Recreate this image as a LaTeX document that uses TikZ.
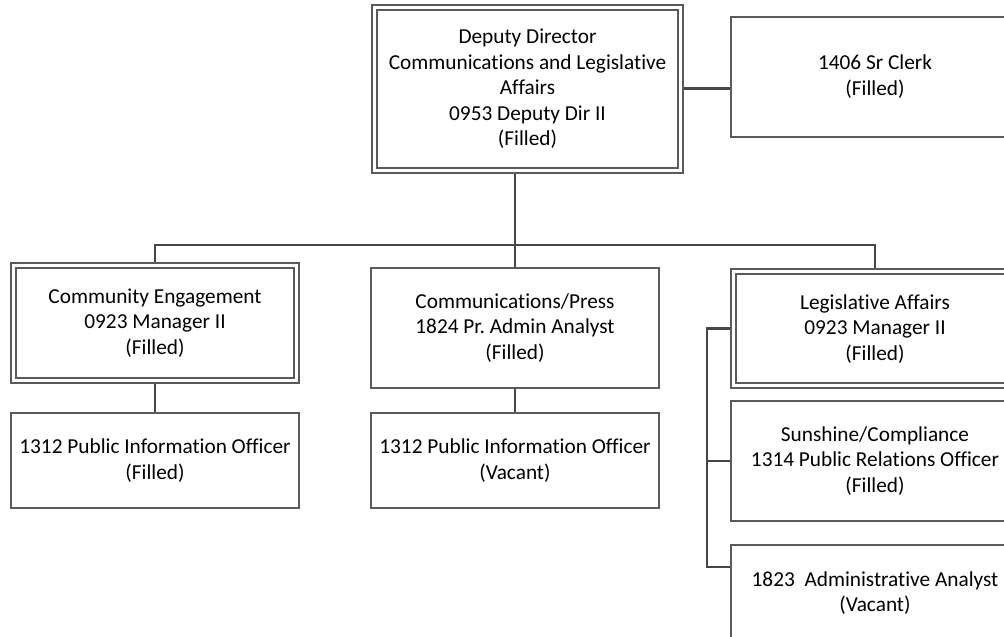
\documentclass[tikz,border=0pt]{standalone}
\usepackage{fontspec}
\setmainfont{Carlito}[Ligatures=CommonOff]
\usetikzlibrary{backgrounds}
\definecolor{boxline}{RGB}{90,90,90}
\definecolor{connline}{RGB}{70,70,70}
\frenchspacing
\tikzset{
  unit/.style={draw=boxline, line width=2pt, fill=white, rectangle, inner sep=0pt,
    align=center, font=\fontsize{21.3}{25.5}\selectfont},
  dbl/.style={unit, line width=1.9pt, double=white, double distance=3.1pt},
  conn/.style={draw=connline, line width=2.9pt}
}
\begin{document}
\begin{tikzpicture}[x=1pt,y=-1pt]
\useasboundingbox (0,0) rectangle (1004,637);
\clip (0,0) rectangle (1004,637);
\node[dbl, minimum width=306pt, minimum height=163pt] (top) at (527.5,88.9)
  {Deputy Director\\Communications and Legislative\\Affairs\\0953 Deputy Dir II\\(Filled)};
\node[unit, minimum width=288pt, minimum height=120pt] (clerk) at (875,76.8)
  {1406 Sr Clerk\\(Filled)};
\node[dbl, minimum width=283pt, minimum height=115pt] (comm) at (155,323)
  {Community Engagement\\0923 Manager II\\(Filled)};
\node[unit, minimum width=288pt, minimum height=120pt] (press) at (515,328)
  {Communications/Press\\1824 Pr. Admin Analyst\\(Filled)};
\node[dbl, minimum width=283pt, minimum height=114.3pt] (leg) at (875,328.6)
  {Legislative Affairs\\0923 Manager II\\(Filled)};
\node[unit, minimum width=288pt, minimum height=95pt] (pio1) at (155,460.5)
  {1312 Public Information Officer\\(Filled)};
\node[unit, minimum width=288pt, minimum height=95pt] (pio2) at (515,460.5)
  {1312 Public Information Officer\\(Vacant)};
\node[unit, minimum width=288pt, minimum height=120pt] (sun) at (875,461)
  {Sunshine/Compliance\\1314 Public Relations Officer\\(Filled)};
\node[unit, minimum width=288pt, minimum height=96pt] (adm) at (875,593)
  {1823~~Administrative Analyst\\(Vacant)};
\coordinate (bar) at (515,245);
\coordinate (bk) at (707,0);
\begin{scope}[on background layer]
\draw[conn] (top.east) -- (top.east -| clerk.west);
\draw[conn] (press.north |- top.south) -- (press.north);
\draw[conn] (comm.north) -- (comm.north |- bar) -- (leg.north |- bar) -- (leg.north);
\draw[conn] (comm.south) -- (pio1.north);
\draw[conn] (press.south) -- (pio2.north);
\draw[conn] (leg.west) -- (leg.west -| bk) |- ([yshift=26pt]adm.west);
\draw[conn] (sun.west -| bk) -- (sun.west);
\end{scope}
\end{tikzpicture}
\end{document}
